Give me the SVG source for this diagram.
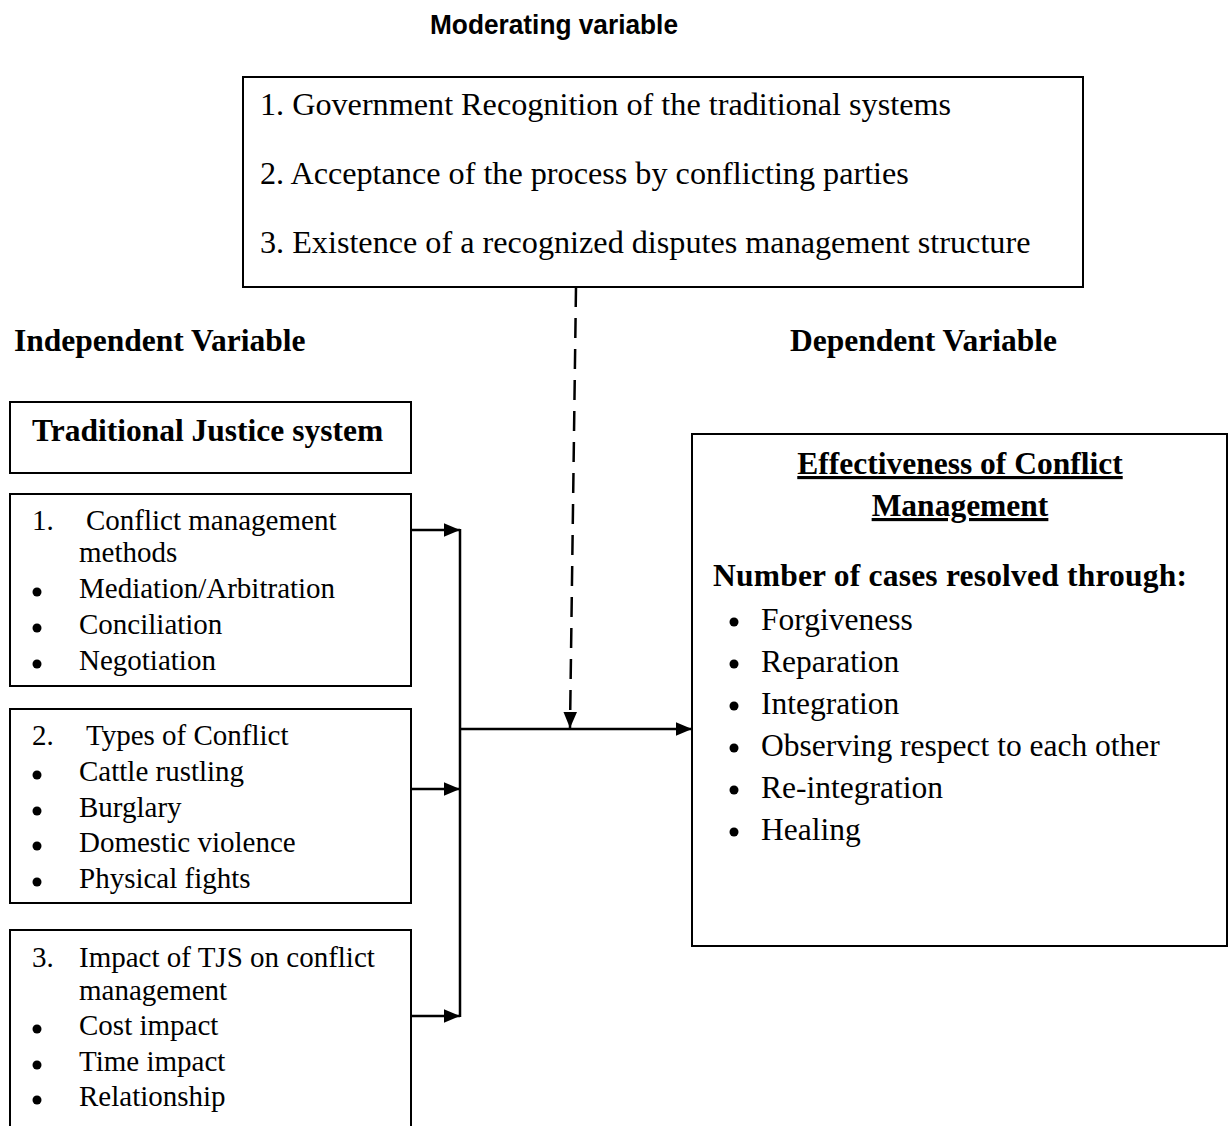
<svg xmlns="http://www.w3.org/2000/svg" width="1231" height="1126" viewBox="0 0 1231 1126">
<defs>
<style>
.box{fill:#fff;stroke:#000;stroke-width:2}
.t{font-family:"Liberation Serif","Times New Roman",serif;fill:#000}
.n{font-size:29px}
.r{font-size:31.5px}
.b{font-weight:bold;font-size:31.5px}
.top{font-size:32.2px}
.mod{font-family:"Liberation Sans Narrow","Liberation Sans",Arial,sans-serif;font-weight:bold;font-size:28px}
.ln{stroke:#000;stroke-width:2.5;fill:none}
</style>
<marker id="ah" viewBox="0 0 10 10" refX="10" refY="5" markerWidth="6.5" markerHeight="5.5" markerUnits="strokeWidth" orient="auto" preserveAspectRatio="none"><path d="M0,0 L10,5 L0,10 z" fill="#000"/></marker>
</defs>
<rect width="1231" height="1126" fill="#fff"/>
<text class="mod" x="430" y="34" textLength="248" lengthAdjust="spacingAndGlyphs">Moderating variable</text>

<g id="moderating">
<rect class="box" x="243" y="77" width="840" height="210"/>
<text class="t top" x="260" y="115">1. Government Recognition of the traditional systems</text>
<text class="t top" x="260" y="184">2. Acceptance of the process by conflicting parties</text>
<text class="t top" x="260" y="253">3. Existence of a recognized disputes management structure</text>
</g>

<text class="t b" x="14" y="351">Independent Variable</text>
<text class="t b" x="790" y="351">Dependent Variable</text>

<g id="tjs">
<rect class="box" x="10" y="402" width="401" height="71"/>
<text class="t b" x="32" y="441">Traditional Justice system</text>
</g>

<g id="box1">
<rect class="box" x="10" y="494" width="401" height="192"/>
<text class="t n"><tspan x="32" y="530">1.</tspan><tspan x="86" y="530">Conflict management</tspan><tspan x="79" y="562">methods</tspan><tspan x="79" y="598">Mediation/Arbitration</tspan><tspan x="79" y="634">Conciliation</tspan><tspan x="79" y="670">Negotiation</tspan></text>
<circle cx="37" cy="592" r="4.5"/><circle cx="37" cy="628" r="4.5"/><circle cx="37" cy="664" r="4.5"/>
</g>

<g id="box2">
<rect class="box" x="10" y="709" width="401" height="194"/>
<text class="t n"><tspan x="32" y="745">2.</tspan><tspan x="86" y="745">Types of Conflict</tspan><tspan x="79" y="781">Cattle rustling</tspan><tspan x="79" y="817">Burglary</tspan><tspan x="79" y="852">Domestic violence</tspan><tspan x="79" y="888">Physical fights</tspan></text>
<circle cx="37" cy="775" r="4.5"/><circle cx="37" cy="811" r="4.5"/><circle cx="37" cy="846" r="4.5"/><circle cx="37" cy="882" r="4.5"/>
</g>

<g id="box3">
<rect class="box" x="10" y="930" width="401" height="210"/>
<text class="t n"><tspan x="32" y="967">3.</tspan><tspan x="79" y="967">Impact of TJS on conflict</tspan><tspan x="79" y="1000">management</tspan><tspan x="79" y="1035">Cost impact</tspan><tspan x="79" y="1071">Time impact</tspan><tspan x="79" y="1106">Relationship</tspan></text>
<circle cx="37" cy="1029" r="4.5"/><circle cx="37" cy="1065" r="4.5"/><circle cx="37" cy="1100" r="4.5"/>
</g>

<g id="dependent">
<rect class="box" x="692" y="434" width="535" height="512"/>
<text class="t b" x="960" y="474" text-anchor="middle" text-decoration="underline">Effectiveness of Conflict</text>
<text class="t b" x="960" y="516" text-anchor="middle" text-decoration="underline">Management</text>
<text class="t b" x="713" y="586" textLength="474" lengthAdjust="spacing">Number of cases resolved through:</text>
<text class="t r"><tspan x="761" y="630">Forgiveness</tspan><tspan x="761" y="672">Reparation</tspan><tspan x="761" y="714">Integration</tspan><tspan x="761" y="756">Observing respect to each other</tspan><tspan x="761" y="798">Re-integration</tspan><tspan x="761" y="840">Healing</tspan></text>
<circle cx="734" cy="622" r="4.5"/><circle cx="734" cy="664" r="4.5"/><circle cx="734" cy="706" r="4.5"/><circle cx="734" cy="748" r="4.5"/><circle cx="734" cy="790" r="4.5"/><circle cx="734" cy="832" r="4.5"/>
</g>

<g id="connectors">
<line class="ln" x1="411" y1="530" x2="460" y2="530" marker-end="url(#ah)"/>
<line class="ln" x1="411" y1="789" x2="460" y2="789" marker-end="url(#ah)"/>
<line class="ln" x1="411" y1="1016" x2="460" y2="1016" marker-end="url(#ah)"/>
<line class="ln" x1="460" y1="529" x2="460" y2="1017"/>
<line class="ln" x1="460" y1="729" x2="692" y2="729" marker-end="url(#ah)"/>
<line class="ln" x1="576" y1="287" x2="570" y2="728" stroke-dasharray="20,11" marker-end="url(#ah)"/>
</g>
</svg>
